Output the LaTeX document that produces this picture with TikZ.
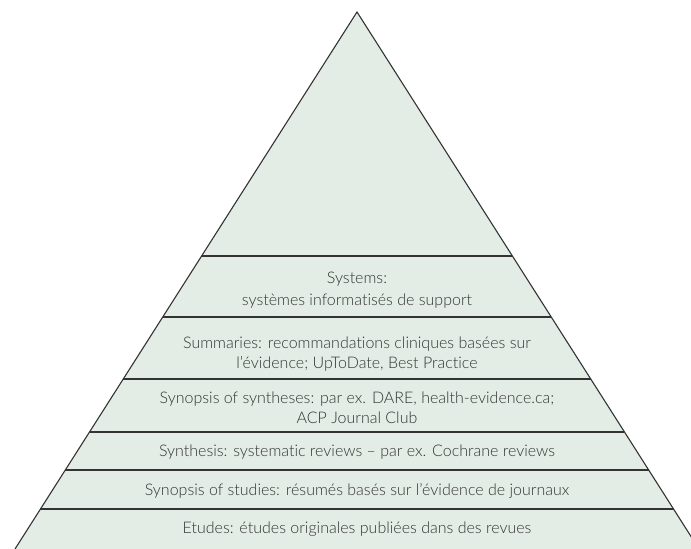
\documentclass[tikz,border=0pt]{standalone}
\usepackage{fontspec}
\setmainfont{Lato}[UprightFont={* Light}, Ligatures=NoCommon]
\usetikzlibrary{calc}
\definecolor{pyrfill}{HTML}{E3EDE5}
\definecolor{pyrline}{HTML}{333333}
\definecolor{pyrtext}{HTML}{333333}
\tikzset{
  edge/.style={draw=pyrline, line width=1.1pt},
  level/.style={text=pyrtext, align=center, anchor=base, inner sep=0pt,
    font=\fontsize{16}{20}\selectfont},
}
\begin{document}
\begin{tikzpicture}[x=1pt,y=-1pt]
  \useasboundingbox (0,0) rectangle (691,549);
  \clip (0,0) rectangle (691,549);
  % pyramid outline
  \coordinate (apex) at (357,12);
  \coordinate (bl) at (15,549);
  \coordinate (br) at (699,549);
  \fill[pyrfill] (apex) -- (bl) -- (br) -- cycle;
  \draw[edge] (bl) -- (apex) -- (br);
  % horizontal dividers between the levels
  \foreach \y in {256,317,379,432,470,509}{
    \draw[edge] ($(apex)!{(\y-12)/537}!(bl)$) -- ($(apex)!{(\y-12)/537}!(br)$);
  }
  % level labels (anchored on the baseline of their last line)
  \node[level] (systems) at (357,305) {Systems:\\[2pt]systèmes informatisés de support};
  \node[level] (summaries) at (357,368) {Summaries: recommandations cliniques basées sur\\l’évidence; UpToDate, Best Practice};
  \node[level] (synopses) at (357,423) {Synopsis of syntheses: par ex. DARE, health-evidence.ca;\\ACP Journal Club};
  \node[level] (synthesis) at (357,456) {Synthesis: systematic reviews – par ex. Cochrane reviews};
  \node[level] (studysyn) at (357,495) {Synopsis of studies: résumés basés sur l’évidence de journaux};
  \node[level] (studies) at (357,533) {Etudes: études originales publiées dans des revues};
\end{tikzpicture}
\end{document}
